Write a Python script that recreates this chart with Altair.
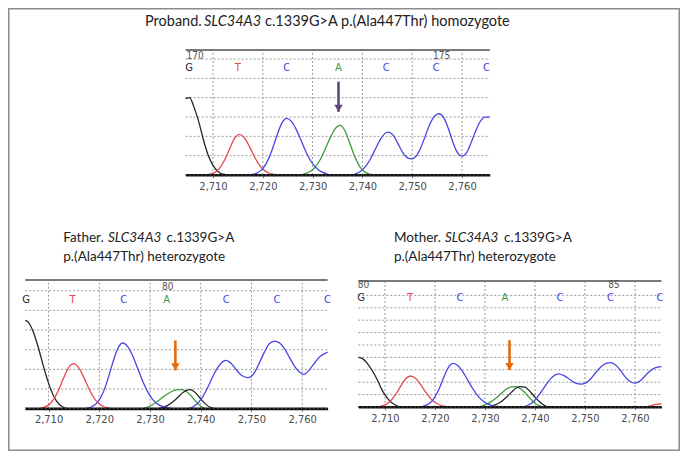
import altair as alt
import pandas as pd

W, H = 672, 443

TICKS = [2710, 2720, 2730, 2740, 2750, 2760]
BASES = ["G", "T", "C", "A"]
BASE_COLORS = ["#262626", "#e5484d", "#4646e4", "#3f9a3f"]

# ---------------- Proband (top) ----------------
P_BLACK_X = [2704.5, 2705.3, 2706.2, 2707.2, 2708.1, 2709.0, 2710.0, 2711.0, 2712.0, 2713.5]
P_BLACK_Y = [3.95, 4.0, 3.5, 2.7, 1.8, 1.05, 0.5, 0.18, 0.04, 0.0]
P_RED_X = [2708.8, 2709.3, 2710.3, 2711.3, 2712.3, 2713.3, 2714.3, 2715.3, 2716.3, 2717.3,
           2718.3, 2719.3, 2720.3, 2721.3, 2722.3, 2723.0]
P_RED_Y = [0, 0.04, 0.12, 0.34, 0.76, 1.33, 1.88, 2.1, 1.93, 1.48, 0.96, 0.52, 0.24, 0.09, 0.03, 0]
P_BLUE_X = [2717.5, 2718.8, 2719.8, 2720.8, 2721.8, 2722.8, 2723.8, 2724.8, 2725.8, 2726.8,
            2727.8, 2728.8, 2729.8, 2730.8, 2731.8, 2732.8, 2733.8, 2737.8, 2738.8, 2739.8,
            2740.8, 2741.8, 2742.8, 2743.8, 2744.8, 2745.3, 2746.2, 2747.1, 2748.0, 2749.0,
            2749.9, 2750.8, 2751.7, 2752.6, 2753.5, 2754.5, 2755.4, 2756.3, 2757.2, 2758.1,
            2759.0, 2760.0, 2760.9, 2761.8, 2762.7, 2763.6, 2764.6, 2765.6]
P_BLUE_Y = [0, 0.10, 0.28, 0.64, 1.25, 2.01, 2.67, 2.93, 2.76, 2.31,
            1.72, 1.13, 0.66, 0.35, 0.16, 0.06, 0, 0, 0.08, 0.22,
            0.5, 0.92, 1.45, 1.92, 2.2, 2.22, 2.05, 1.65, 1.2, 0.9,
            0.83, 0.98, 1.4, 2.0, 2.6, 3.05, 3.17, 2.98, 2.45, 1.75,
            1.2, 0.98, 1.15, 1.65, 2.25, 2.75, 3.0, 3.0]
P_GREEN_X = [2727.8, 2728.5, 2729.5, 2730.5, 2731.5, 2732.5, 2733.5, 2734.5, 2735.5, 2736.5,
             2737.5, 2738.5, 2739.5, 2740.5, 2741.5, 2742.0]
P_GREEN_Y = [0, 0.07, 0.18, 0.40, 0.79, 1.32, 1.91, 2.39, 2.57, 2.29, 1.63, 0.93, 0.42, 0.15, 0.04, 0]
P_LETTER_X = [2705.2, 2715.0, 2724.8, 2735.2, 2744.8, 2754.8, 2764.9]
P_LETTERS = ["G", "T", "C", "A", "C", "C", "C"]
P_NUM_X = [2706.4, 2755.9]
P_NUMS = ["170", "175"]

# ---------------- Father ----------------
F_BLACK1_X = [2705.4, 2706.0, 2707.0, 2708.0, 2709.0, 2710.0, 2711.0, 2712.0, 2713.0, 2714.0]
F_BLACK1_Y = [4.49, 4.4, 3.9, 3.1, 2.15, 1.3, 0.65, 0.25, 0.06, 0]
F_RED_X = [2708.2, 2708.9, 2709.9, 2710.9, 2711.9, 2712.9, 2713.9, 2714.9, 2715.9, 2716.9,
           2717.9, 2718.9, 2719.9, 2720.9, 2721.9, 2722.5]
F_RED_Y = [0, 0.06, 0.17, 0.44, 0.90, 1.52, 2.07, 2.29, 2.10, 1.62, 1.05, 0.57, 0.26, 0.10, 0.03, 0]
F_BLUE_X = [2717.2, 2718.6, 2719.6, 2720.6, 2721.6, 2722.6, 2723.6, 2724.6, 2725.6, 2726.6,
            2727.6, 2728.6, 2729.6, 2730.6, 2731.6, 2732.6, 2733.6, 2734.5, 2737.3, 2738.5,
            2739.5, 2740.5, 2741.5, 2742.5, 2743.5, 2744.5, 2745.0, 2746.0, 2747.0, 2748.0,
            2749.3, 2750.5, 2751.5, 2752.5, 2753.5, 2754.6, 2755.5, 2756.5, 2757.5, 2758.5,
            2759.5, 2760.3, 2761.5, 2762.5, 2763.5, 2765.0]
F_BLUE_Y = [0, 0.11, 0.31, 0.73, 1.43, 2.29, 3.04, 3.34, 3.16, 2.68,
            2.03, 1.37, 0.83, 0.45, 0.22, 0.10, 0.04, 0, 0, 0.1,
            0.3, 0.65, 1.15, 1.7, 2.15, 2.42, 2.46, 2.3, 1.98, 1.7,
            1.58, 1.8, 2.3, 2.85, 3.3, 3.44, 3.35, 3.05, 2.6, 2.15,
            1.85, 1.75, 2.0, 2.35, 2.65, 2.88]
F_GREEN_X = [2728.5, 2729.5, 2730.5, 2731.5, 2732.5, 2733.5, 2734.5, 2735.5, 2736.2, 2737.0,
             2738.0, 2739.0, 2740.0, 2740.8]
F_GREEN_Y = [0, 0.08, 0.2, 0.38, 0.58, 0.76, 0.9, 0.97, 0.97, 0.9, 0.68, 0.38, 0.12, 0]
F_BLACK2_X = [2731.5, 2732.5, 2733.5, 2734.5, 2735.5, 2736.5, 2737.5, 2738.0, 2739.0, 2740.0,
              2741.0, 2742.0, 2742.8]
F_BLACK2_Y = [0, 0.06, 0.17, 0.35, 0.58, 0.82, 0.96, 0.97, 0.8, 0.5, 0.22, 0.06, 0]
F_LETTER_X = [2705.6, 2714.75, 2724.8, 2733.3, 2745.0, 2755.0, 2765.0]
F_LETTERS = ["G", "T", "C", "A", "C", "C", "C"]
F_NUM_X = [2733.5]
F_NUMS = ["80"]

# ---------------- Mother ----------------
M_BLACK1_X = [2704.66, 2705.5, 2706.5, 2707.5, 2708.5, 2709.5, 2710.5, 2711.5, 2712.5, 2713.3]
M_BLACK1_Y = [4.0, 3.9, 3.5, 2.9, 2.15, 1.3, 0.7, 0.3, 0.08, 0]
M_RED_X = [2708.5, 2709.1, 2710.1, 2711.1, 2712.1, 2713.1, 2714.1, 2715.1, 2716.1, 2717.1,
           2718.1, 2719.1, 2720.1, 2721.1, 2722.1, 2722.8]
M_RED_Y = [0, 0.06, 0.19, 0.48, 0.99, 1.66, 2.26, 2.5, 2.31, 1.82, 1.22, 0.70, 0.34, 0.14, 0.05, 0]
M_BLUE_X = [2717.0, 2717.6, 2718.6, 2719.6, 2720.6, 2721.6, 2722.6, 2723.6, 2724.6, 2725.6,
            2726.6, 2727.6, 2728.6, 2729.6, 2730.6, 2731.6, 2732.6, 2733.3, 2737.3, 2738.3,
            2739.3, 2740.3, 2741.3, 2742.3, 2743.3, 2744.7, 2745.7, 2746.7, 2747.7, 2749.1,
            2750.2, 2751.2, 2752.2, 2753.2, 2754.2, 2755.1, 2756.0, 2757.0, 2758.0, 2759.0,
            2760.0, 2761.0, 2762.0, 2763.0, 2764.0, 2765.3]
M_BLUE_Y = [0, 0.06, 0.21, 0.57, 1.27, 2.24, 3.14, 3.52, 3.33, 2.82,
            2.14, 1.45, 0.88, 0.48, 0.23, 0.10, 0.04, 0, 0, 0.1,
            0.3, 0.7, 1.25, 1.85, 2.35, 2.67, 2.55, 2.3, 2.0, 1.84,
            1.95, 2.3, 2.8, 3.25, 3.52, 3.57, 3.42, 3.0, 2.45, 2.05,
            1.92, 2.1, 2.5, 2.9, 3.15, 3.25]
M_GREEN_X = [2728.3, 2729.3, 2730.3, 2731.3, 2732.3, 2733.3, 2734.3, 2735.3, 2736.0, 2737.0,
             2738.0, 2739.0, 2740.0, 2741.0, 2741.8]
M_GREEN_Y = [0, 0.08, 0.22, 0.45, 0.75, 1.1, 1.45, 1.63, 1.65, 1.5, 1.15, 0.7, 0.3, 0.08, 0]
M_BLACK2_X = [2730.3, 2731.3, 2732.3, 2733.3, 2734.3, 2735.3, 2736.3, 2737.0, 2738.0, 2739.0,
              2740.0, 2741.0, 2742.0, 2742.7]
M_BLACK2_Y = [0, 0.08, 0.22, 0.45, 0.8, 1.2, 1.55, 1.65, 1.6, 1.25, 0.8, 0.38, 0.1, 0]
M_RED2_X = [2762.3, 2763.3, 2764.3, 2765.3]
M_RED2_Y = [0, 0.12, 0.22, 0.25]
M_LETTER_X = [2705.2, 2715.0, 2725.0, 2734.0, 2745.0, 2755.1, 2765.0]
M_LETTERS = ["G", "T", "C", "A", "C", "C", "C"]
M_NUM_X = [2705.7, 2755.8]
M_NUMS = ["80", "85"]

LABEL_FONT = "Liberation Sans Narrow, DejaVu Sans Condensed, Liberation Sans, sans-serif"
TITLE_FONT = "Lato"


def make_panel(traces, letters_x, letters, letter_y, nums_x, nums, num_y,
               xdom, xrng, ydom, yrng, hgrid, arrow, arrow_color, axis_offset):
    sx = alt.Scale(domain=xdom, range=xrng, nice=False, zero=False)
    sy = alt.Scale(domain=ydom, range=yrng, nice=False, zero=False)
    ax = alt.Axis(orient="bottom", offset=axis_offset, values=TICKS, format=",d", grid=False,
                  title=None, domainColor="#111111", domainWidth=2.2, tickColor="#888888",
                  tickSize=3, labelFont=LABEL_FONT, labelFontSize=11, labelColor="#4a4a4a",
                  labelPadding=2)

    def X(f):
        return alt.X(f, type="quantitative", scale=sx, axis=ax)

    def Y(f):
        return alt.Y(f, type="quantitative", scale=sy, axis=None)

    hg = pd.DataFrame({"y": hgrid, "x0": xdom[0], "x1": xdom[1]})
    vg = pd.DataFrame({"x": TICKS, "y0": ydom[0], "y1": ydom[1]})
    top = pd.DataFrame({"y": [ydom[1]], "x0": [xdom[0]], "x1": [xdom[1]]})
    base = pd.DataFrame({"y": [0.0], "x0": [xdom[0]], "x1": [xdom[1]]})

    rows = []
    for tid, b, xs, ys in traces:
        for xv, yv in zip(xs, ys):
            rows.append({"trace": tid, "base": b, "x": xv, "y": yv})
    curves = pd.DataFrame(rows)
    lets = pd.DataFrame({"x": letters_x, "base": letters, "y": letter_y})
    numdf = pd.DataFrame({"x": nums_x, "t": nums, "y": num_y})
    arr = pd.DataFrame({"x": [arrow[0]], "y0": [arrow[1]], "y1": [arrow[2]]})

    color = alt.Color("base:N", scale=alt.Scale(domain=BASES, range=BASE_COLORS), legend=None)

    layers = [
        alt.Chart(hg).mark_rule(color="#9a9a9a", strokeWidth=1, strokeDash=[2, 2]).encode(
            x=X("x0"), x2="x1", y=Y("y")),
        alt.Chart(vg).mark_rule(color="#9a9a9a", strokeWidth=1, strokeDash=[2, 2]).encode(
            x=X("x"), y=Y("y0"), y2="y1"),
        alt.Chart(top).mark_rule(color="#7a7a7a", strokeWidth=2).encode(
            x=X("x0"), x2="x1", y=Y("y")),
        alt.Chart(numdf).mark_text(font=LABEL_FONT, fontSize=10, color="#555555").encode(
            x=X("x"), y=Y("y"), text="t:N"),
        alt.Chart(curves).mark_line(interpolate="monotone", strokeWidth=1.3).encode(
            x=X("x"), y=Y("y"), color=color, detail="trace:N"),
        alt.Chart(base).mark_rule(color="#111111", strokeWidth=2.2).encode(
            x=X("x0"), x2="x1", y=Y("y")),
        alt.Chart(base).mark_rule(color="#8a8a8a", strokeWidth=0.8, strokeDash=[1, 3]).encode(
            x=X("x0"), x2="x1", y=Y("y")),
        alt.Chart(lets).mark_text(font="DejaVu Sans", fontSize=10).encode(
            x=X("x"), y=Y("y"), text="base:N", color=color),
        alt.Chart(arr).mark_rule(color=arrow_color, strokeWidth=2.6).encode(
            x=X("x"), y=Y("y0"), y2="y1"),
        alt.Chart(arr).mark_point(shape="triangle-down", filled=True, opacity=1, size=70,
                                  color=arrow_color, yOffset=-3.5).encode(
            x=X("x"), y=Y("y1")),
    ]
    return alt.layer(*layers)


proband = make_panel(
    [("k1", "G", P_BLACK_X, P_BLACK_Y), ("r1", "T", P_RED_X, P_RED_Y),
     ("g1", "A", P_GREEN_X, P_GREEN_Y), ("b1", "C", P_BLUE_X, P_BLUE_Y)],
    P_LETTER_X, P_LETTERS, 5.55, P_NUM_X, P_NUMS, 6.15,
    [2704.5, 2765.6], [177.6, 481.9], [0, 6.47], [167, 42], [1, 2, 3, 4, 5, 6],
    (2735.2, 4.83, 3.27), "#5f497a", 167 - H)

father = make_panel(
    [("k1", "G", F_BLACK1_X, F_BLACK1_Y), ("r1", "T", F_RED_X, F_RED_Y),
     ("g1", "A", F_GREEN_X, F_GREEN_Y), ("k2", "G", F_BLACK2_X, F_BLACK2_Y),
     ("b1", "C", F_BLUE_X, F_BLUE_Y)],
    F_LETTER_X, F_LETTERS, 5.54, F_NUM_X, F_NUMS, 6.2,
    [2705.4, 2765.0], [17.2, 319.6], [0, 6.55], [400.7, 271.9], [1, 2, 3, 4, 5, 6],
    (2735.0, 3.47, 1.95), "#e36c0a", 400.7 - H)

mother = make_panel(
    [("k1", "G", M_BLACK1_X, M_BLACK1_Y), ("r1", "T", M_RED_X, M_RED_Y),
     ("g1", "A", M_GREEN_X, M_GREEN_Y), ("k2", "G", M_BLACK2_X, M_BLACK2_Y),
     ("b1", "C", M_BLUE_X, M_BLUE_Y), ("r2", "T", M_RED2_X, M_RED2_Y)],
    M_LETTER_X, M_LETTERS, 8.76, M_NUM_X, M_NUMS, 9.8,
    [2704.66, 2765.3], [350.3, 653.5], [0, 10.15], [399, 273.1],
    [1, 2, 3, 4, 5, 6, 7, 8, 9],
    (2734.9, 5.38, 2.98), "#e36c0a", 399 - H)

# ---------------- titles (mixed upright / italic pieces, left-aligned chain) ----------
TITLE_TEXT = ["Proband.", "SLC34A3", "c.1339G>A p.(Ala447Thr) homozygote",
              "Father.", "SLC34A3", "c.1339G>A", "p.(Ala447Thr) heterozygote",
              "Mother.", "SLC34A3", "c.1339G>A", "p.(Ala447Thr) heterozygote"]
TITLE_ITALIC = [False, True, False, False, True, False, False, False, True, False, False]
TITLE_SIZE = [14.5, 14.5, 14.5, 13.5, 13.5, 13.5, 13.5, 13.5, 13.5, 13.5, 13.5]
TITLE_PX = [137.0, 196.0, 257.0, 55.3, 100.0, 158.5, 55.3, 386.0, 437.0, 496.0, 386.0]
TITLE_PY = [13.7, 13.7, 13.7, 230.3, 230.3, 230.3, 249.0, 230.3, 230.3, 230.3, 249.0]

one = pd.DataFrame({"a": [0]})
title_layers = []
for t, it, fs, px, py in zip(TITLE_TEXT, TITLE_ITALIC, TITLE_SIZE, TITLE_PX, TITLE_PY):
    mk = dict(font=TITLE_FONT, fontSize=fs, color="#222222", align="left", baseline="middle")
    if it:
        mk["fontStyle"] = "italic"
    title_layers.append(
        alt.Chart(one).mark_text(text=t, **mk).encode(x=alt.value(px), y=alt.value(py)))

frame = alt.Chart(one).mark_rect(fillOpacity=0, stroke="#8c8c8c", strokeWidth=1.5).encode(
    x=alt.value(0.75), x2=alt.value(W - 0.75), y=alt.value(0.75), y2=alt.value(H - 0.75))

chart = alt.layer(frame, *title_layers, proband, father, mother).resolve_scale(
    x="independent", y="independent"
).resolve_axis(x="independent", y="independent").properties(
    width=W, height=H, padding=0, autosize=alt.AutoSizeParams(type="none"),
    background="white"
).configure_view(stroke=None)

chart.save("out.html", embed_options={"renderer": "svg", "actions": False})
